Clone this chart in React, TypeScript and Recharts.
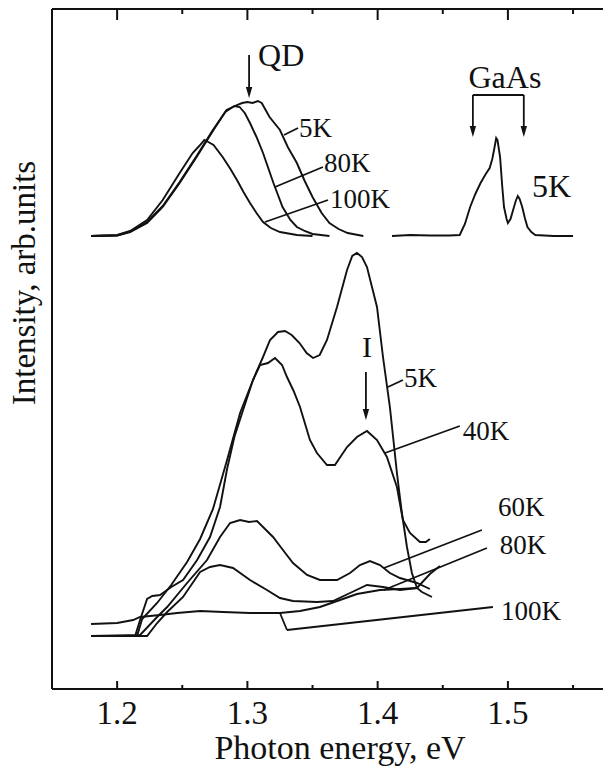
import React from 'react';
import { LineChart, Line, XAxis, YAxis, ReferenceLine, ReferenceDot } from 'recharts';

// ---- axis / tick values ----
const X_DOMAIN: [number, number] = [1.15, 1.573];
const Y_DOMAIN: [number, number] = [0, 68];
const X_TICKS = [1.2, 1.25, 1.3, 1.35, 1.4, 1.45, 1.5, 1.55];
const X_MAJOR = [1.2, 1.3, 1.4, 1.5];

// ---- upper panel (offset spectra): QD band at 5K, 80K, 100K and GaAs at 5K ----
const qd5K: [number, number][] = [[1.180,45.3],[1.200,45.35],[1.210,45.7],[1.223,46.6],[1.235,48.2],[1.248,50.6],[1.261,53.2],[1.274,55.9],[1.284,57.9],[1.292,58.4],[1.296,58.6],[1.300,58.7],[1.304,58.6],[1.308,58.8],[1.311,58.6],[1.317,57.2],[1.325,55.9],[1.331,54.2],[1.338,52.6],[1.344,50.8],[1.350,49.2],[1.357,47.6],[1.363,46.6],[1.370,46.0],[1.377,45.6],[1.389,45.3]];
const qd80K: [number, number][] = [[1.180,45.3],[1.200,45.35],[1.210,45.75],[1.223,46.7],[1.235,48.3],[1.248,50.7],[1.261,53.3],[1.273,55.8],[1.283,57.7],[1.290,58.3],[1.294,58.2],[1.298,57.6],[1.302,56.6],[1.307,55.2],[1.312,53.6],[1.316,52.1],[1.320,50.6],[1.327,48.2],[1.333,46.9],[1.338,46.2],[1.344,45.8],[1.350,45.5],[1.363,45.3]];
const qd100K: [number, number][] = [[1.180,45.3],[1.200,45.4],[1.210,45.8],[1.223,46.9],[1.235,48.9],[1.248,51.6],[1.258,53.6],[1.263,54.3],[1.267,54.9],[1.270,54.7],[1.274,54.4],[1.281,53.2],[1.287,52.0],[1.292,50.9],[1.297,49.7],[1.302,48.6],[1.307,47.6],[1.312,46.7],[1.318,46.1],[1.325,45.7],[1.338,45.4],[1.350,45.3]];
const gaas5K: [number, number][] = [[1.411,45.3],[1.425,45.4],[1.440,45.35],[1.455,45.35],[1.463,45.4],[1.467,46.5],[1.471,48.2],[1.475,49.5],[1.479,50.6],[1.483,51.5],[1.486,52.1],[1.488,53.0],[1.4895,54.0],[1.491,55.1],[1.492,54.9],[1.494,53.2],[1.4955,50.5],[1.497,48.2],[1.499,47.0],[1.500,46.6],[1.502,47.0],[1.504,47.9],[1.506,48.8],[1.5076,49.3],[1.509,49.0],[1.511,48.2],[1.513,47.1],[1.515,46.2],[1.518,45.7],[1.521,45.4],[1.535,45.3],[1.550,45.3]];

// ---- lower panel: spectra at 5K, 40K, 60K, 80K, 100K ----
const pl5K: [number, number][] = [[1.2138,5.3],[1.2176,6.9],[1.223,9.0],[1.227,9.3],[1.233,9.4],[1.2415,10.2],[1.2506,10.9],[1.2614,12.9],[1.2713,15.2],[1.279,18.2],[1.2844,22.0],[1.290,25.2],[1.2967,27.9],[1.3043,30.9],[1.312,33.2],[1.3174,34.9],[1.3235,35.7],[1.3289,35.8],[1.334,35.4],[1.340,34.6],[1.3455,33.6],[1.3504,33.1],[1.3555,33.4],[1.3611,34.9],[1.3688,38.2],[1.3765,41.9],[1.3805,43.3],[1.3841,43.6],[1.388,43.2],[1.3918,42.2],[1.3995,38.2],[1.4041,33.2],[1.4094,28.2],[1.4148,21.6],[1.4186,17.6],[1.4225,14.2],[1.4263,11.6],[1.4302,10.1],[1.434,9.7],[1.4417,9.2]];
const pl40K: [number, number][] = [[1.2153,5.3],[1.2192,7.0],[1.2307,8.6],[1.2415,10.4],[1.2537,12.7],[1.2637,15.0],[1.2736,18.0],[1.2844,22.9],[1.2944,27.6],[1.3043,30.9],[1.3097,32.4],[1.3158,32.6],[1.3212,33.1],[1.3266,32.4],[1.3304,31.2],[1.3355,29.8],[1.3404,28.2],[1.348,24.9],[1.3534,23.6],[1.3611,22.4],[1.3672,22.4],[1.3765,24.2],[1.3841,25.2],[1.3918,25.8],[1.3995,24.9],[1.4071,23.2],[1.4148,20.2],[1.4194,16.9],[1.4248,15.6],[1.4325,14.7],[1.437,14.7],[1.4401,15.0]];
const pl60K: [number, number][] = [[1.180,5.3],[1.2176,5.4],[1.2307,7.2],[1.2384,8.2],[1.2537,10.6],[1.269,12.9],[1.279,15.2],[1.2867,16.6],[1.2944,16.9],[1.3013,16.7],[1.3074,16.8],[1.312,16.2],[1.3197,15.2],[1.3273,13.9],[1.335,12.6],[1.3458,11.4],[1.3557,10.9],[1.3688,10.9],[1.3788,11.6],[1.3864,12.4],[1.3941,12.8],[1.4018,12.4],[1.4094,11.6],[1.4171,11.1],[1.4302,10.6],[1.4401,10.0]];
const pl80K: [number, number][] = [[1.180,5.3],[1.223,5.3],[1.2307,6.6],[1.2384,7.7],[1.2506,9.2],[1.2637,11.7],[1.2713,12.2],[1.279,12.4],[1.289,12.1],[1.302,10.9],[1.315,9.9],[1.325,9.1],[1.335,8.8],[1.3534,8.7],[1.3657,8.8],[1.3788,9.6],[1.3918,10.4],[1.4041,10.2],[1.4171,9.9],[1.4302,10.1],[1.4401,11.5],[1.4478,12.3]];
const pl100K: [number, number][] = [[1.180,6.5],[1.200,6.6],[1.2123,6.9],[1.2176,7.2],[1.233,7.4],[1.246,7.6],[1.2637,7.8],[1.2813,7.7],[1.302,7.6],[1.325,7.6],[1.3404,7.8],[1.3557,8.2],[1.3711,8.9],[1.3841,9.5],[1.4018,9.9],[1.4171,10.0],[1.4302,10.1]];

const SERIES = [qd5K, qd80K, qd100K, gaas5K, pl5K, pl40K, pl60K, pl80K, pl100K];

// ---- annotations (data coordinates) ----
// leader lines [x1, y1, x2, y2]
const LEADERS: [number, number, number, number][] = [
  [1.3281, 55.4, 1.3389, 56.1],
  [1.3212, 50.2, 1.358, 52.2],
  [1.3135, 46.7, 1.3619, 48.9],
  [1.4079, 30.2, 1.4194, 30.9],
  [1.4056, 23.6, 1.4631, 26.3],
  [1.4048, 12.1, 1.48, 15.9],
  [1.4048, 9.9, 1.4839, 14.1],
  [1.325, 7.6, 1.3304, 5.9],
  [1.3304, 5.9, 1.4885, 8.2],
  [1.4731, 59.4, 1.5122, 59.4],
];
// arrows [x1, y1, x2(tip), y2(tip)]
const ARROWS: [number, number, number, number][] = [
  [1.3013, 63.4, 1.3013, 59.1],
  [1.4731, 59.4, 1.4731, 55.2],
  [1.5122, 59.4, 1.5122, 55.2],
  [1.391, 31.7, 1.391, 26.9],
];
// labels: text, x, y (baseline), size
const LABELS: { text: string; x: number; y: number; size: number; anchor?: string }[] = [
  { text: 'QD', x: 1.3082, y: 62.3, size: 32 },
  { text: 'GaAs', x: 1.4977, y: 60.1, size: 32, anchor: 'middle' },
  { text: '5K', x: 1.5184, y: 49.2, size: 32 },
  { text: '5K', x: 1.3396, y: 55.2, size: 27 },
  { text: '80K', x: 1.3588, y: 51.7, size: 27 },
  { text: '100K', x: 1.3634, y: 48.1, size: 27 },
  { text: 'I', x: 1.3918, y: 33.2, size: 30, anchor: 'middle' },
  { text: '5K', x: 1.4202, y: 30.2, size: 27 },
  { text: '40K', x: 1.4654, y: 24.9, size: 27 },
  { text: '60K', x: 1.4923, y: 17.3, size: 27 },
  { text: '80K', x: 1.4938, y: 13.5, size: 27 },
  { text: '100K', x: 1.4946, y: 6.9, size: 27 },
];

const FONT = '"Liberation Serif", "Times New Roman", serif';
const INK = '#111';

const toRows = (s: [number, number][]) => s.map(([x, y]) => ({ x, y }));

const isMajor = (v: number) => X_MAJOR.some((m) => Math.abs(m - v) < 1e-6);

const BottomTick = (props: any) => {
  const { x, y, payload } = props;
  const major = isMajor(payload.value);
  return (
    <g>
      <line x1={x} y1={y} x2={x} y2={y - (major ? 8 : 4)} stroke={INK} strokeWidth={2} />
      {major && (
        <text x={x} y={y + 35} textAnchor="middle" fontFamily={FONT} fontSize={33} fill={INK}>
          {payload.value.toFixed(1)}
        </text>
      )}
    </g>
  );
};

const TopTick = (props: any) => {
  const { x, y, payload } = props;
  const major = isMajor(payload.value);
  return <line x1={x} y1={y} x2={x} y2={y + (major ? 11 : 5)} stroke={INK} strokeWidth={2} />;
};

const ArrowShape = (p: any) => {
  const { x1, y1, x2, y2 } = p;
  const ang = Math.atan2(y2 - y1, x2 - x1);
  const L = 11;
  const W = 3.2;
  const bx = x2 - L * Math.cos(ang);
  const by = y2 - L * Math.sin(ang);
  const ox = -Math.sin(ang) * W;
  const oy = Math.cos(ang) * W;
  return (
    <g>
      <line x1={x1} y1={y1} x2={bx} y2={by} stroke={INK} strokeWidth={1.8} />
      <polygon points={`${x2},${y2} ${bx + ox},${by + oy} ${bx - ox},${by - oy}`} fill={INK} />
    </g>
  );
};

export default function App() {
  return (
    <div style={{ position: 'absolute', left: 0, top: 0, background: '#fff' }}>
      <LineChart width={603} height={768} margin={{ top: 0, right: 0, bottom: 0, left: 0 }}>
        <XAxis
          xAxisId="top"
          orientation="top"
          type="number"
          dataKey="x"
          domain={X_DOMAIN}
          allowDataOverflow
          ticks={X_TICKS}
          interval={0}
          height={9}
          tickSize={0}
          tickMargin={0}
          tickLine={false}
          tick={(p: any) => <TopTick {...p} />}
          axisLine={{ stroke: INK, strokeWidth: 2 }}
        />
        <XAxis
          type="number"
          dataKey="x"
          domain={X_DOMAIN}
          allowDataOverflow
          ticks={X_TICKS}
          interval={0}
          height={79}
          tickSize={0}
          tickMargin={0}
          tickLine={false}
          tick={(p: any) => <BottomTick {...p} />}
          axisLine={{ stroke: INK, strokeWidth: 2 }}
          label={{
            content: (p: any) => (
              <text
                x={p.viewBox.x + 288}
                y={p.viewBox.y + 70}
                textAnchor="middle"
                fontFamily={FONT}
                fontSize={34}
                fill={INK}
              >
                Photon energy, eV
              </text>
            ),
          }}
        />
        <YAxis
          type="number"
          domain={Y_DOMAIN}
          allowDataOverflow
          width={52}
          tick={false}
          tickLine={false}
          axisLine={{ stroke: INK, strokeWidth: 2 }}
          label={{
            content: (p: any) => {
              const cx = p.viewBox.x + 35;
              const cy = p.viewBox.y + 274;
              return (
                <text
                  x={cx}
                  y={cy}
                  transform={`rotate(-90, ${cx}, ${cy})`}
                  textAnchor="middle"
                  fontFamily={FONT}
                  fontSize={33}
                  fill={INK}
                >
                  Intensity, arb.units
                </text>
              );
            },
          }}
        />
        {SERIES.map((s, i) => (
          <Line
            key={i}
            data={toRows(s)}
            dataKey="y"
            type="linear"
            stroke={INK}
            strokeWidth={1.9}
            dot={false}
            activeDot={false}
            isAnimationActive={false}
          />
        ))}
        {LEADERS.map(([x1, y1, x2, y2], i) => (
          <ReferenceLine
            key={`l${i}`}
            segment={[{ x: x1, y: y1 }, { x: x2, y: y2 }]}
            stroke={INK}
            strokeWidth={1.8}
            ifOverflow="visible"
          />
        ))}
        {ARROWS.map(([x1, y1, x2, y2], i) => (
          <ReferenceLine
            key={`a${i}`}
            segment={[{ x: x1, y: y1 }, { x: x2, y: y2 }]}
            ifOverflow="visible"
            shape={(p: any) => <ArrowShape {...p} />}
          />
        ))}
        {LABELS.map((l, i) => (
          <ReferenceDot
            key={`t${i}`}
            x={l.x}
            y={l.y}
            r={1}
            ifOverflow="visible"
            shape={(p: any) => (
              <text
                x={p.cx}
                y={p.cy}
                textAnchor={l.anchor || 'start'}
                fontFamily={FONT}
                fontSize={l.size}
                fill={INK}
              >
                {l.text}
              </text>
            )}
          />
        ))}
      </LineChart>
    </div>
  );
}
